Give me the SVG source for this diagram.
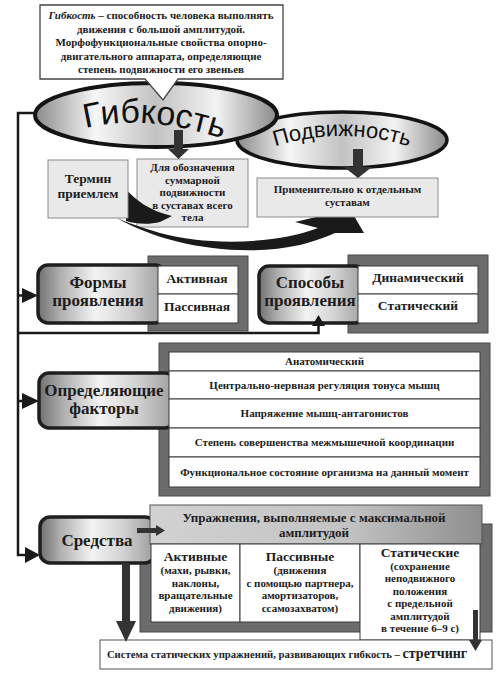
<svg xmlns="http://www.w3.org/2000/svg" width="500" height="677" viewBox="0 0 500 677">
<defs>
<linearGradient id="metal" x1="0" y1="0" x2="1" y2="0">
<stop offset="0" stop-color="#707070"/>
<stop offset="0.18" stop-color="#b0b0b0"/>
<stop offset="0.45" stop-color="#f3f3f3"/>
<stop offset="0.72" stop-color="#d2d2d2"/>
<stop offset="1" stop-color="#9c9c9c"/>
</linearGradient>
<linearGradient id="ell" x1="0" y1="0" x2="1" y2="0">
<stop offset="0" stop-color="#8a8a8a"/>
<stop offset="0.25" stop-color="#f6f6f6"/>
<stop offset="0.5" stop-color="#c2c2c2"/>
<stop offset="0.75" stop-color="#f3f3f3"/>
<stop offset="1" stop-color="#8a8a8a"/>
</linearGradient>
<linearGradient id="hdr" x1="0" y1="0" x2="1" y2="0">
<stop offset="0" stop-color="#d2d2d2"/>
<stop offset="0.6" stop-color="#c2c2c2"/>
<stop offset="1" stop-color="#8e8e8e"/>
</linearGradient>
<path id="arcG" d="M 72,132 Q 140,109 236,143"/>
<path id="arcP" d="M 270,148 Q 342,124 414,148"/>
</defs>
<style>
.t{font-family:"Liberation Serif","Times New Roman",serif;font-weight:bold;fill:#1c1c1c;text-anchor:middle}
.big{font-size:17px}
.m{font-size:13.5px}
.s{font-size:11px}
.cell{fill:#ffffff;stroke:#3a3a3a;stroke-width:1}
.back{fill:#6c6c6c;stroke:#4a4a4a;stroke-width:1}
.rbox{fill:url(#metal);stroke:#1e1e1e;stroke-width:3.5}
.gbox{fill:#e9e9e9;stroke:#8a8a8a;stroke-width:1}
.ln{fill:none;stroke:#1a1a1a;stroke-width:2.5}
.ar{fill:#1a1a1a}
.da{fill:#333333}
.elt{font-family:"Liberation Sans",Arial,sans-serif;fill:#111;text-anchor:middle}
</style>

<g id="node-podvizhnost">
<ellipse cx="342" cy="140" rx="105" ry="28" fill="url(#ell)" stroke="#141414" stroke-width="3.5"/>
<text class="elt" font-size="22"><textPath href="#arcP" startOffset="50%">Подвижность</textPath></text>
</g>

<g id="node-gibkost">
<ellipse cx="156" cy="115" rx="121" ry="32" fill="url(#ell)" stroke="#141414" stroke-width="4"/>
<text class="elt" font-size="34"><textPath href="#arcG" startOffset="50%">Гибкость</textPath></text>
</g>

<g id="node-definition">
<path d="M40,5 H283 V79 H178 L163,100 L145,79 H40 Z" fill="#ffffff" stroke="#444" stroke-width="1.3"/>
<text class="t s" x="161" y="19"><tspan font-style="italic">Гибкость</tspan> – способность человека выполнять</text>
<text class="t s" x="161" y="32.5">движения с большой амплитудой.</text>
<text class="t s" x="161" y="46">Морфофункциональные свойства опорно-</text>
<text class="t s" x="161" y="59.5">двигательного аппарата, определяющие</text>
<text class="t s" x="161" y="73">степень подвижности его звеньев</text>
</g>

<g id="node-summary">
<rect class="gbox" x="137" y="159" width="111" height="68"/>
<text class="t s" x="192.5" y="171">Для обозначения</text>
<text class="t s" x="192.5" y="183.5">суммарной</text>
<text class="t s" x="192.5" y="196">подвижности</text>
<text class="t s" x="192.5" y="208.5">в суставах всего</text>
<text class="t s" x="192.5" y="221">тела</text>
</g>

<g id="connector-swoosh">
<path class="ar" d="M125,188 C135,200 150,211 172,216 L160,222 C148,225 136,224 126,221 Z"/>
<path class="ar" d="M117,218 C165,246 240,258 300,245 C315,241 326,237 335,233 L364,233 L350,209 L295,222 L318,228 C280,243 210,247 160,233 C140,227 126,222 117,218 Z"/>
</g>

<g id="node-termin">
<rect class="gbox" x="48" y="160" width="80" height="58"/>
<text class="t m" x="88" y="183">Термин</text>
<text class="t m" x="88" y="198">приемлем</text>
</g>

<g id="node-joints">
<rect class="gbox" x="257" y="178" width="181" height="39"/>
<text class="t s" x="347.5" y="193">Применительно к отдельным</text>
<text class="t s" x="347.5" y="205.5">суставам</text>
</g>

<g id="node-formy">
<rect class="back" x="148" y="256" width="100" height="75"/>
<rect class="rbox" x="38" y="265" width="127" height="58" rx="10"/>
<rect class="cell" x="158" y="266" width="80" height="28"/>
<rect class="cell" x="158" y="294" width="80" height="29"/>
<text class="t big" x="98" y="288">Формы</text>
<text class="t big" x="98" y="306">проявления</text>
<text class="t m" x="197" y="283">Активная</text>
<text class="t m" x="197" y="311">Пассивная</text>
</g>

<g id="node-sposoby">
<rect class="back" x="348" y="255" width="140" height="78"/>
<rect class="rbox" x="259" y="266" width="106" height="57" rx="10"/>
<rect class="cell" x="358" y="266" width="120" height="28"/>
<rect class="cell" x="358" y="294" width="120" height="29"/>
<text class="t big" x="310" y="288">Способы</text>
<text class="t big" x="310" y="306">проявления</text>
<text class="t m" x="418" y="282">Динамический</text>
<text class="t m" x="418" y="310">Статический</text>
</g>

<g id="node-factors">
<rect class="back" x="159" y="343" width="331" height="153"/>
<rect class="rbox" x="39" y="373" width="136" height="55" rx="10"/>
<rect class="cell" x="169" y="352" width="311" height="19"/>
<rect class="cell" x="169" y="371" width="311" height="28"/>
<rect class="cell" x="169" y="399" width="311" height="29"/>
<rect class="cell" x="169" y="428" width="311" height="29"/>
<rect class="cell" x="169" y="457" width="311" height="30"/>
<text class="t big" x="104" y="396">Определяющие</text>
<text class="t big" x="104" y="414">факторы</text>
<text class="t s" x="324.5" y="365">Анатомический</text>
<text class="t s" x="324.5" y="389">Центрально-нервная регуляция тонуса мышц</text>
<text class="t s" x="324.5" y="417">Напряжение мышц-антагонистов</text>
<text class="t s" x="324.5" y="446">Степень совершенства межмышечной координации</text>
<text class="t s" x="324.5" y="476">Функциональное состояние организма на данный момент</text>
</g>

<g id="node-sredstva">
<rect class="back" x="140" y="524" width="352" height="108"/>
<rect class="rbox" x="40" y="517" width="115" height="46" rx="10"/>
<rect x="150" y="505" width="332" height="39" fill="url(#hdr)" stroke="#555" stroke-width="1"/>
<rect class="cell" x="151" y="544" width="89" height="78"/>
<rect class="cell" x="240" y="544" width="120" height="78"/>
<rect class="cell" x="360" y="544" width="120" height="96"/>
<text class="t big" x="97" y="546">Средства</text>
<text class="t" font-size="13" x="314" y="522">Упражнения, выполняемые с максимальной</text>
<text class="t" font-size="13" x="314" y="537">амплитудой</text>
<text class="t m" x="195.5" y="561">Активные</text>
<text class="t s" x="195.5" y="574">(махи, рывки,</text>
<text class="t s" x="195.5" y="586.5">наклоны,</text>
<text class="t s" x="195.5" y="599">вращательные</text>
<text class="t s" x="195.5" y="611.5">движения)</text>
<text class="t m" x="300" y="561">Пассивные</text>
<text class="t s" x="300" y="574">(движения</text>
<text class="t s" x="300" y="586.5">с помощью партнера,</text>
<text class="t s" x="300" y="599">амортизаторов,</text>
<text class="t s" x="300" y="611.5">ссамозахватом)</text>
<text class="t m" x="420" y="557">Статические</text>
<text class="t s" x="420" y="569.5">(сохранение</text>
<text class="t s" x="420" y="582">неподвижного</text>
<text class="t s" x="420" y="594.5">положения</text>
<text class="t s" x="420" y="607">с предельной</text>
<text class="t s" x="420" y="619.5">амплитудой</text>
<text class="t s" x="420" y="632">в течение 6–9 с)</text>
</g>

<g id="node-stretching">
<rect x="100" y="640" width="392" height="29" fill="#ffffff" stroke="#555" stroke-width="1"/>
<text class="t" font-size="10.7" x="287" y="658">Система статических упражнений, развивающих гибкость – <tspan font-size="14">стретчинг</tspan></text>
</g>

<g id="connectors">
<path class="ln" d="M36,113 H18 V555 H27"/>
<path class="ln" d="M18,295.5 H24"/>
<path class="ln" d="M18,401 H24"/>
<path class="ln" d="M18,333 H318.5 V325"/>
<polygon class="ar" points="22,288 22,303 38,295.5"/>
<polygon class="ar" points="22,393 22,409 39,401"/>
<polygon class="ar" points="25,547 25,563 40,555"/>
<polygon class="ar" points="312,326 325,326 318.5,315"/>
<polygon class="da" points="174,130 183,130 183,149 189,149 178.5,159 168,149 174,149"/>
<polygon class="da" points="353,149 363,149 363,167 372,167 358,178 344,167 353,167"/>
<polygon class="da" points="137,528 156,528 156,525 165,530.5 156,536 156,533 137,533"/>
<polygon class="da" points="122,563 130,563 130,621 136,621 126,642 116,621 122,621"/>
<polygon class="da" points="473,610 478,610 478,640 482,640 475.5,651 469,640 473,640"/>
</g>
</svg>
